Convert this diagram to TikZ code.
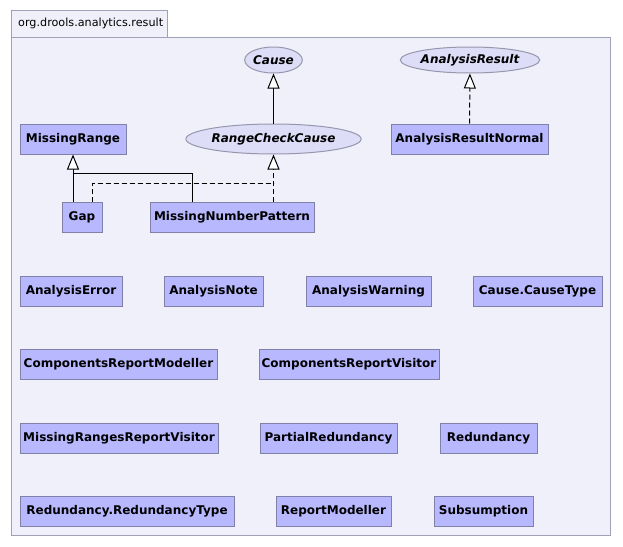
\documentclass[tikz,border=0pt]{standalone}
\usepackage{fontspec}
\setmainfont{DejaVu Sans}
\usepackage{tikz}
\usetikzlibrary{arrows.meta,positioning,shapes}

\definecolor{boxfill}{RGB}{184,184,255}
\definecolor{boxline}{RGB}{128,128,168}
\definecolor{ellfill}{RGB}{221,221,248}
\definecolor{ellline}{RGB}{150,150,172}
\definecolor{pkgfill}{RGB}{240,240,251}
\definecolor{pkgline}{RGB}{160,160,182}

\tikzset{
  cls/.style={draw=boxline, fill=boxfill, line width=1pt, minimum height=30pt, inner sep=0pt, font=\fontsize{12}{14}\selectfont\bfseries},
  iface/.style={ellipse, draw=ellline, fill=ellfill, line width=1pt, inner sep=0pt, font=\fontsize{12}{14}\selectfont\bfseries\itshape},
  inherit/.style={line width=1pt, -{Triangle[length=15pt,width=12pt,fill=white]}},
  realize/.style={inherit, dash pattern=on 5pt off 3pt},
  dashline/.style={line width=1pt, dash pattern=on 5pt off 3pt}
}

\begin{document}
\begin{tikzpicture}[x=1pt,y=-1pt]
\fill[white] (0,0) rectangle (623,546);
\draw[pkgline, fill=pkgfill, line width=1pt] (11,10) rectangle (167,37);
\draw[pkgline, fill=pkgfill, line width=1pt] (11,37) rectangle (610,535);
\node[anchor=west, inner sep=0pt, font=\fontsize{11.2}{13}\selectfont] (pkg) at (18,23.5) {org.drools.analytics.result};

\node[iface, minimum width=55pt, minimum height=26pt] (cause) at (273.5,60) {Cause};
\node[iface, minimum width=149pt, minimum height=30pt] (rcc) at (273.5,139) {RangeCheckCause};
\node[iface, minimum width=120pt, minimum height=26pt] (ares) at (470,60) {AnalysisResult};

\node[cls, minimum width=106pt] (mrange) at (73,139) {MissingRange};
\node[cls, minimum width=157pt] (arn) at (469.5,139) {AnalysisResultNormal};
\node[cls, minimum width=40pt] (gap) at (82,217) {Gap};
\node[cls, minimum width=164pt] (mnp) at (232,217) {MissingNumberPattern};

\node[cls, minimum width=102pt] (aerr) at (71,291) {AnalysisError};
\node[cls, minimum width=99pt] (anote) at (213.5,291) {AnalysisNote};
\node[cls, minimum width=125pt] (awarn) at (368.5,291) {AnalysisWarning};
\node[cls, minimum width=129pt] (ctype) at (537.5,291) {Cause.CauseType};

\node[cls, minimum width=197pt] (crm) at (118.5,364) {ComponentsReportModeller};
\node[cls, minimum width=180pt] (crv) at (349,364) {ComponentsReportVisitor};

\node[cls, minimum width=198pt] (mrrv) at (119,438) {MissingRangesReportVisitor};
\node[cls, minimum width=137pt] (pred) at (328.5,438) {PartialRedundancy};
\node[cls, minimum width=97pt] (red) at (488.5,438) {Redundancy};

\node[cls, minimum width=214pt] (rrt) at (127,511) {Redundancy.RedundancyType};
\node[cls, minimum width=115pt] (rmod) at (333.5,511) {ReportModeller};
\node[cls, minimum width=99pt] (subs) at (483.5,511) {Subsumption};

\coordinate (mrj) at (73,173);
\coordinate (mnpj) at (192,173);
\coordinate (gapj) at (92,183);
\coordinate (rccj) at (273.5,183);

\draw[inherit] (rcc) -- (cause);
\draw[realize] (arn) -- (ares);
\draw[inherit] (mrange.south |- gap.north) -- (mrange.south);
\draw[line width=1pt] (mnp.north -| mnpj) -- (mnpj) -- (mrj);
\draw[realize] (rcc.south |- mnp.north) -- (rcc.south);
\draw[dashline] (gap.north -| gapj) -- (gapj) -- (rccj);
\end{tikzpicture}
\end{document}
